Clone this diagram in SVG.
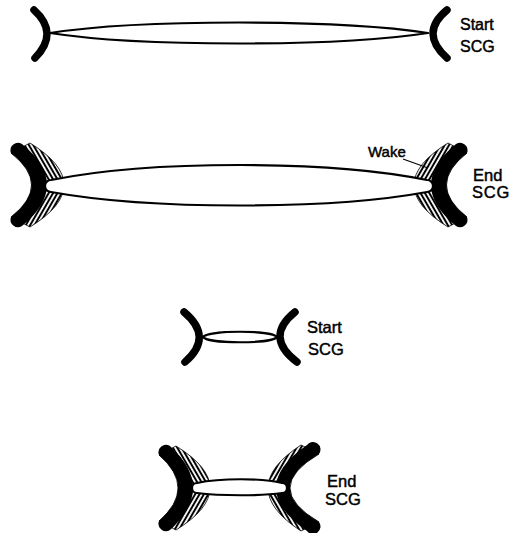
<svg xmlns="http://www.w3.org/2000/svg" width="510" height="533" viewBox="0 0 510 533">
<style>
.cap{fill:none;stroke:#000;stroke-width:7.5;stroke-linecap:round}
.lens{fill:#fff;stroke:#000;stroke-width:2.2;stroke-linejoin:round}
.blk{fill:#000}
.hb{fill:url(#hatchB);stroke:#000;stroke-width:0.8}
.hf{fill:url(#hatchF);stroke:#000;stroke-width:0.8}
text{font-family:"Liberation Sans",Arial,sans-serif;fill:#000;stroke:#000;stroke-width:0.45}
.lbl{font-size:16px}
.lbl2{font-size:16.5px}
.wake{font-size:15px}
</style>
<defs>
  <!-- steep diagonal shading: "/" and "\" -->
  <pattern id="hatchF" width="3.8" height="3.8" patternUnits="userSpaceOnUse" patternTransform="rotate(30)">
    <rect width="3.8" height="3.8" fill="#fff"/>
    <line x1="1.9" y1="0" x2="1.9" y2="3.8" stroke="#000" stroke-width="2"/>
  </pattern>
  <pattern id="hatchB" width="3.8" height="3.8" patternUnits="userSpaceOnUse" patternTransform="rotate(-30)">
    <rect width="3.8" height="3.8" fill="#fff"/>
    <line x1="1.9" y1="0" x2="1.9" y2="3.8" stroke="#000" stroke-width="2"/>
  </pattern>
  <!-- heavy end cap with shaded wake, drawn as the left-hand cap -->
  <g id="endcap">
    <path class="hb" d="M30,143 Q64,164 64,185 L31.5,185 Q31.5,169 11,153 Z"/>
    <path class="hf" d="M64,185 Q64,206 30,227 L11,217 Q31.5,201 31.5,185 Z"/>
    <path class="blk" d="M22,144 Q72,185 22,226 A7.5,7.5 0 0 1 11,217 Q52,185 11,153 A7.5,7.5 0 0 1 22,144 Z"/>
  </g>
</defs>

<!-- panel 1: long span, start -->
<g id="p1">
  <g id="p1-connector"><path class="lens" d="M50,33 C140,19 338,19 428,33 C338,47 140,47 50,33 Z"/></g>
  <g id="p1-left"><path class="cap" d="M34,10 Q59.5,33 35,58"/></g>
  <g id="p1-right"><path class="cap" d="M447,10 Q419,33 447,58"/></g>
  <g id="p1-label"><text class="lbl" x="460" y="30">Start</text><text class="lbl" x="460" y="52">SCG</text></g>
</g>

<!-- panel 2: long span, end -->
<g id="p2">
  <g id="p2-left"><use href="#endcap"/></g>
  <g id="p2-right"><use href="#endcap" transform="matrix(-1 0 0 1 478 0)"/></g>
  <g id="p2-connector"><path class="lens" d="M51,180 C150,160 330,160 427,180 A6,6 0 0 1 427,192 C330,210 150,210 51,192 A6,6 0 0 1 51,180 Z"/></g>
  <g id="p2-label">
    <text class="wake" x="368" y="157">Wake</text>
    <line x1="403" y1="159" x2="428" y2="168" stroke="#000" stroke-width="1.2"/>
    <text class="lbl2" x="473" y="181">End</text>
    <text class="lbl2" x="472" y="198" letter-spacing="0.8">SCG</text>
  </g>
</g>

<!-- panel 3: short span, start -->
<g id="p3">
  <g id="p3-connector"><path class="lens" d="M203,337 C208,330 272,330 277,337 C272,344 208,344 203,337 Z"/></g>
  <g id="p3-left"><path class="cap" d="M184,312 Q214,337 185,362"/></g>
  <g id="p3-right"><path class="cap" d="M295,312 Q264,337 297,362"/></g>
  <g id="p3-label"><text class="lbl2" x="307" y="333">Start</text><text class="lbl2" x="308" y="355">SCG</text></g>
</g>

<!-- panel 4: short span, end -->
<g id="p4">
  <g id="p4-left">
    <path class="hb" d="M176,446 Q210,467 210,488 L178,488 Q178,471.5 159,455 Z"/>
    <path class="hf" d="M210,488 Q210,509 176,530 L159,521 Q178,504.5 178,488 Z"/>
    <path class="blk" d="M170,446 Q216,488 170,530 A7.5,7.5 0 0 1 159,521 Q197,488 159,455 A7.5,7.5 0 0 1 170,446 Z"/>
  </g>
  <g id="p4-right">
    <path class="hf" d="M301,445 Q268,466.5 268,488 L290,488 Q290,471 319,454 Z"/>
    <path class="hb" d="M268,488 Q268,509.5 301,531 L319,522 Q290,505 290,488 Z"/>
    <path class="blk" d="M307,445 Q245,488 307,531 A7.5,7.5 0 0 0 319,522 Q261,488 319,454 A7.5,7.5 0 0 0 307,445 Z"/>
  </g>
  <g id="p4-connector"><path class="lens" d="M197,483 C220,478 262,478 282,483 A5,5 0 0 1 282,493 C262,496 220,496 197,493 A5,5 0 0 1 197,483 Z"/></g>
  <g id="p4-label"><text class="lbl2" x="327" y="487">End</text><text class="lbl2" x="325" y="505">SCG</text></g>
</g>
</svg>
